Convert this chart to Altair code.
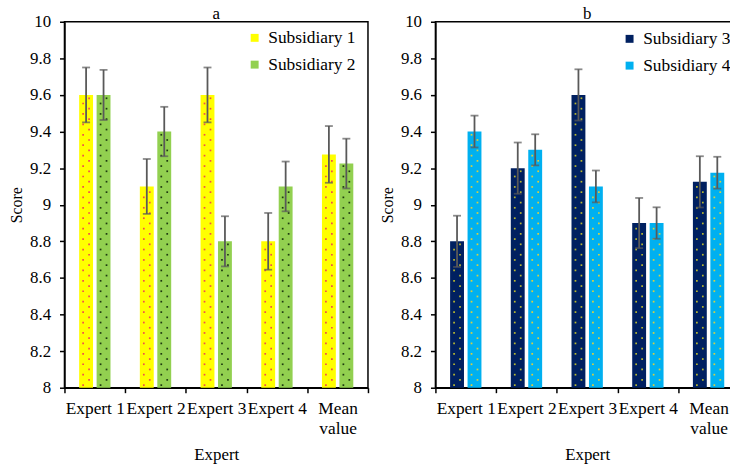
import altair as alt
import pandas as pd

# Categories and series values
experts = ["Expert 1", "Expert 2", "Expert 3", "Expert 4", "Mean value"]
y_ticks = [8, 8.2, 8.4, 8.6, 8.8, 9, 9.2, 9.4, 9.6, 9.8, 10]

sub1 = [9.6, 9.1, 9.6, 8.8, 9.275]
sub2 = [9.6, 9.4, 8.8, 9.1, 9.225]
sub3 = [8.8, 9.2, 9.6, 8.9, 9.125]
sub4 = [9.4, 9.3, 9.1, 8.9, 9.175]

# Half-lengths of the error bars
err1 = [0.15, 0.15, 0.15, 0.155, 0.155]
err2 = [0.137, 0.135, 0.137, 0.136, 0.136]
err3 = [0.14, 0.14, 0.14, 0.137, 0.14]
err4 = [0.087, 0.085, 0.087, 0.086, 0.087]

FONT = "Liberation Serif"
ERR_COLOR = "#595959"
DOT_STEP = 0.057          # vertical spacing of the dotted fill texture (score units)
BAR_WIDTH = 14
BAR_SHIFT = (-8.8, 8.8)   # px from band centre to each series' bar centre
DOT_COLS = (-3, 3)        # px from bar centre to each texture column


def bar_table(names, series_vals, series_errs):
    rows = []
    for name, vals, errs in zip(names, series_vals, series_errs):
        for cat, v, e in zip(experts, vals, errs):
            rows.append({"cat": cat, "series": name, "value": v,
                         "lo": v - e, "hi": v + e})
    return pd.DataFrame(rows)


def dot_table(bars):
    # staggered two-column dot texture filling each bar up to its value
    rows = []
    for _, r in bars.iterrows():
        for col in (0, 1):
            y = 8 + DOT_STEP * (0.25 + 0.5 * col)
            while y < r["value"] - 0.01:
                rows.append({"cat": r["cat"], "series": r["series"],
                             "y": y, "col": col})
                y += DOT_STEP
    return pd.DataFrame(rows)


X_AXIS = alt.Axis(labelAngle=0, tickBand="extent", labelPadding=7,
                  titlePadding=10,
                  labelExpr="datum.label == 'Mean value' ? ['Mean', 'value'] : datum.label",
                  labelLineHeight=20, labelFont=FONT, labelFontSize=17.5,
                  labelColor="black", titleFont=FONT, titleFontSize=17,
                  titleFontWeight="normal", titleColor="black",
                  domainColor="black", domainWidth=1.5, tickColor="black",
                  tickWidth=1.5, tickSize=5)
X_SCALE = alt.Scale(paddingInner=0, paddingOuter=0)
Y_AXIS = alt.Axis(values=y_ticks, format="~g", grid=False, labelOverlap=False,
                  labelPadding=9, titlePadding=5, labelFont=FONT,
                  labelFontSize=17, labelColor="black", titleFont=FONT,
                  titleFontSize=16, titleFontWeight="normal",
                  titleColor="black", domainColor="black", domainWidth=1.5,
                  tickColor="black", tickWidth=1.5, tickSize=5)
Y_SCALE = alt.Scale(domain=[8, 10], zero=False, nice=False)


def xq():
    return alt.X("cat:N", sort=experts, title="Expert", scale=X_SCALE,
                 axis=X_AXIS)


def yq(field):
    return alt.Y(f"{field}:Q", scale=Y_SCALE, title="Score", axis=Y_AXIS)


def panel(title, names, series_vals, series_errs, colors, dot_colors,
          legend_x, legend_y):
    bars_df = bar_table(names, series_vals, series_errs)
    dots_df = dot_table(bars_df)

    color_enc = alt.Color("series:N", sort=names,
                          scale=alt.Scale(domain=names, range=colors),
                          legend=alt.Legend(title=None, orient="none",
                                            legendX=legend_x, legendY=legend_y,
                                            symbolType="square", symbolSize=64,
                                            symbolStrokeWidth=0, labelFont=FONT,
                                            labelFontSize=17.5, labelOffset=5,
                                            rowPadding=8, labelColor="black"))

    base = alt.Chart(bars_df).encode(x=xq())
    dot_base = alt.Chart(dots_df).encode(
        x=xq(),
        y=yq("y"),
        fill=alt.Fill("series:N", sort=names,
                      scale=alt.Scale(domain=names, range=dot_colors),
                      legend=None),
    )

    bar_layers, dot_layers, err_layers = [], [], []
    for si, name in enumerate(names):
        shift = BAR_SHIFT[si]
        sub = base.transform_filter(alt.datum.series == name)
        bar_layers.append(
            sub.mark_bar(width=BAR_WIDTH, xOffset=shift).encode(
                y=yq("value"), y2=alt.datum(8), color=color_enc)
        )
        for ci, dx in enumerate(DOT_COLS):
            dot_layers.append(
                dot_base.transform_filter(
                    (alt.datum.series == name) & (alt.datum.col == ci)
                ).mark_square(size=3, opacity=1, xOffset=shift + dx)
            )
        err_layers.append(
            sub.mark_rule(color=ERR_COLOR, strokeWidth=1.8,
                          xOffset=shift).encode(y=yq("lo"), y2="hi:Q")
        )
        for fld in ("lo", "hi"):
            err_layers.append(
                sub.mark_tick(color=ERR_COLOR, thickness=1.8, size=8,
                              xOffset=shift).encode(y=yq(fld))
            )

    return alt.layer(*bar_layers, *dot_layers, *err_layers).properties(
        width=306, height=369,
        title=alt.TitleParams(title, font=FONT, fontSize=17,
                              fontWeight="normal", color="black", offset=-10,
                              frame="group"),
    ).resolve_scale(fill="independent")


panel_a = panel("a", ["Subsidiary 1", "Subsidiary 2"], [sub1, sub2],
                [err1, err2], ["#FFFF00", "#92D050"], ["#F0504A", "#1E3A10"],
                183, 7.5)
panel_b = panel("b", ["Subsidiary 3", "Subsidiary 4"], [sub3, sub4],
                [err3, err4], ["#002060", "#00B0F0"], ["#B8B830", "#D8D040"],
                187, 8.5)

chart = alt.hconcat(panel_a, panel_b, spacing=9).resolve_scale(
    color="independent", fill="independent"
).resolve_legend(color="independent").configure(
    padding={"left": 8, "top": 2, "right": -11, "bottom": 0},
    background="white",
).configure_view(
    stroke="black", strokeWidth=1.5
).configure_axisY(
    labelFont=FONT, labelFontSize=17, labelColor="black", labelOverlap=False,
    titleFont=FONT, titleFontSize=16, titleFontWeight="normal",
    titleColor="black",
).configure_legend(
    labelFont=FONT, labelFontSize=17.5, labelColor="black"
)

chart.save("out.html", embed_options={"renderer": "svg", "actions": False})
